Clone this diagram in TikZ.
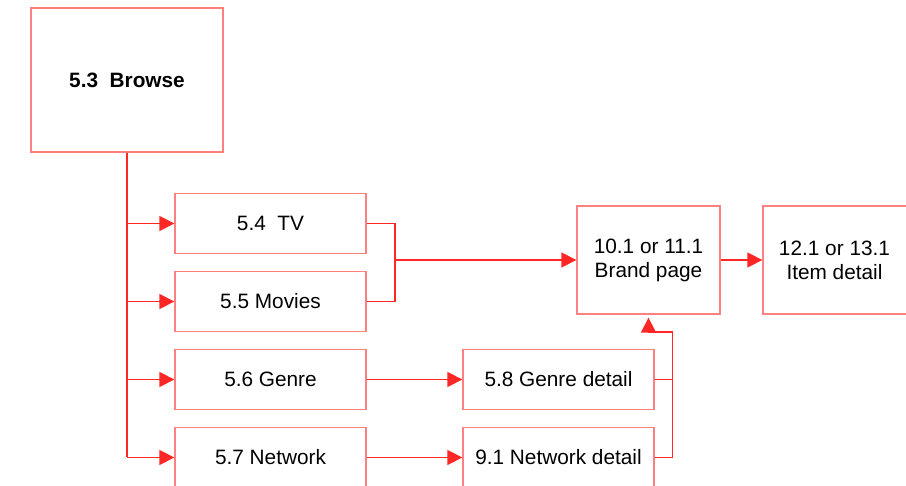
\documentclass[tikz,border=0pt]{standalone}
\usepackage{fontspec}
\setmainfont{Liberation Sans}
\usepackage{tikz}
\usetikzlibrary{arrows.meta}
\usetikzlibrary{positioning}
\definecolor{mbox}{rgb}{1, 0.5, 0.5}
\definecolor{mline}{rgb}{1, 0.15, 0.15}
\tikzset{box/.style = {draw = mbox, line width = 1.3, fill = white, align = center, inner sep = 0,
    font = \fontsize{20.8}{24}\selectfont}}
\tikzset{link/.style = {draw = mline, line width = 1.4}}
\tikzset{arr/.style = {link, -{Triangle[length = 15, width = 15]}}}

\begin{document}
\begin{tikzpicture}[x = 1pt, y = -1pt]
      \useasboundingbox (0, 0) rectangle (906, 486);
      \clip (0, 0) rectangle (906, 486);

      \node [box, minimum width = 192, minimum height = 144] (browse) at (127, 80) {\bfseries 5.3\ \ Browse};
      \node [box, minimum width = 191, minimum height = 60] (tv) at (270.5, 223.5) {5.4\ \ TV};
      \node [box, minimum width = 191, minimum height = 60] (movies) at (270.5, 301.5) {5.5 Movies};
      \node [box, minimum width = 191, minimum height = 60] (genre) at (270.5, 379.5) {5.6 Genre};
      \node [box, minimum width = 191, minimum height = 60] (network) at (270.5, 457.5) {5.7 Network};
      \node [box, minimum width = 143, minimum height = 108] (brand) at (648.5, 260) {10.1 or 11.1\\Brand page};
      \node [box, minimum width = 148, minimum height = 108] (item) at (837, 260) {};
      \node [font = \fontsize{20.8}{24}\selectfont, align = center] (itemtext) at (834.5, 260) {12.1 or 13.1\\Item detail};
      \node [box, minimum width = 191, minimum height = 60] (genredetail) at (558.5, 379.5) {5.8 Genre detail};
      \node [box, minimum width = 191, minimum height = 60] (networkdetail) at (558.5, 457.5) {9.1 Network detail};

      \coordinate (join) at (395, 260);
      \coordinate (up) at (672.5, 332);

      \draw [link] (browse.south) -- (browse.south |- network.west);
      \draw [arr] (browse.south |- tv.west) -- (tv.west);
      \draw [arr] (browse.south |- movies.west) -- (movies.west);
      \draw [arr] (browse.south |- genre.west) -- (genre.west);
      \draw [arr] (browse.south |- network.west) -- (network.west);

      \draw [link] (tv.east) -| (join) |- (movies.east);
      \draw [arr] (join) -- (brand.west);
      \draw [arr] (brand.east) -- (item.west);

      \draw [arr] (genre.east) -- (genredetail.west);
      \draw [arr] (network.east) -- (networkdetail.west);

      \draw [link] (genredetail.east) -| (up) |- (networkdetail.east);
      \draw [arr] (up |- genredetail.east) -- (up) -| ([yshift = -3pt] brand.south);
    \end{tikzpicture}
\end{document}
